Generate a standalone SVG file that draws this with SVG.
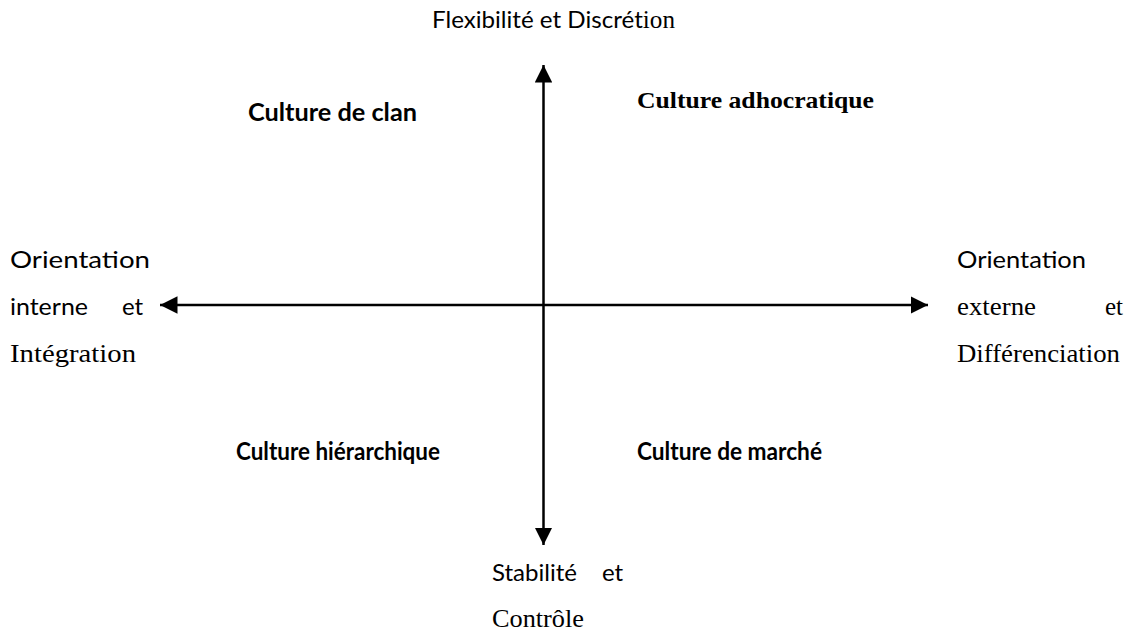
<svg xmlns="http://www.w3.org/2000/svg" width="1132" height="632" viewBox="0 0 1132 632">
<style>
.s{font-family:"Lato","Open Sans","Liberation Sans",sans-serif;font-size:24px;fill:#000}
.r{font-family:"Liberation Serif","Times New Roman",serif;font-size:25px;fill:#000}
.b{font-family:"Lato","Open Sans","Liberation Sans",sans-serif;font-size:24px;font-weight:bold;fill:#000}
.bs{font-family:"Liberation Serif","DejaVu Serif",serif;font-size:24px;font-weight:bold;fill:#000}
.ax{stroke:#000;stroke-width:2.5;fill:none}
</style>
<defs>
<marker id="ah" viewBox="0 0 10 10" refX="10" refY="5" markerWidth="7" markerHeight="7" markerUnits="strokeWidth" orient="auto-start-reverse">
<path d="M0,0 L10,5 L0,10 Z" fill="#000"/>
</marker>
</defs>
<rect width="1132" height="632" fill="#fff"/>
<g id="connectors">
<line class="ax" x1="543.5" y1="545" x2="543.5" y2="65" marker-start="url(#ah)" marker-end="url(#ah)"/>
<line class="ax" x1="160" y1="305" x2="928" y2="305" marker-start="url(#ah)" marker-end="url(#ah)"/>
</g>
<g id="top-label"><text x="432" y="28" class="s" textLength="243" lengthAdjust="spacingAndGlyphs">Flexibilité et Discrét<tspan class="r">ion</tspan></text></g>
<g id="clan"><text x="248" y="121" class="b" textLength="169" lengthAdjust="spacingAndGlyphs">Culture de clan</text></g>
<g id="adhocratique"><text x="637" y="108" class="bs" textLength="237" lengthAdjust="spacingAndGlyphs">Culture adhocratique</text></g>
<g id="hierarchique"><text x="236" y="460" class="b" textLength="204" lengthAdjust="spacingAndGlyphs">Culture hiérarchique</text></g>
<g id="marche"><text x="637" y="460" class="b" textLength="185" lengthAdjust="spacingAndGlyphs">Culture de marché</text></g>
<g id="left-label">
<text x="10" y="268" class="s" textLength="140" lengthAdjust="spacingAndGlyphs">Orientation</text>
<text x="10" y="315" class="s" textLength="78" lengthAdjust="spacingAndGlyphs">interne</text>
<text x="122" y="315" class="s">et</text>
<text x="10" y="362" class="r" textLength="126" lengthAdjust="spacingAndGlyphs">Intégration</text>
</g>
<g id="right-label">
<text x="957" y="268" class="s" textLength="129" lengthAdjust="spacingAndGlyphs">Orientation</text>
<text x="957" y="315" class="r" textLength="79" lengthAdjust="spacingAndGlyphs">externe</text>
<text x="1105" y="315" class="r">et</text>
<text x="957" y="362" class="r" textLength="163" lengthAdjust="spacingAndGlyphs">Différenciation</text>
</g>
<g id="bottom-label">
<text x="492" y="581" class="s" textLength="85" lengthAdjust="spacingAndGlyphs">Stabilité</text>
<text x="602" y="581" class="s">et</text>
<text x="492" y="627" class="r" textLength="92" lengthAdjust="spacingAndGlyphs">Contrôle</text>
</g>
</svg>
